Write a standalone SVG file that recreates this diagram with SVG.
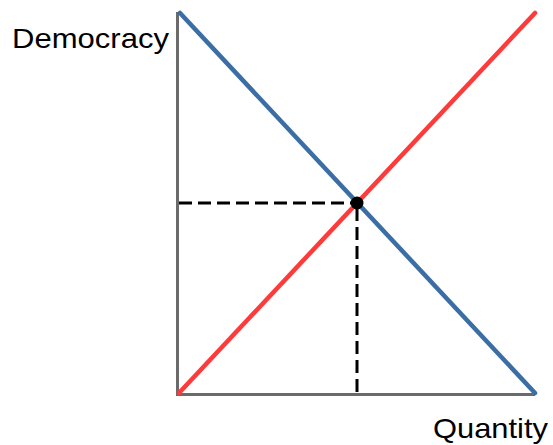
<svg xmlns="http://www.w3.org/2000/svg" width="553" height="445" viewBox="0 0 553 445">
<style>
.axis{stroke:#6b6b6b;stroke-width:3;fill:none}
.dash{stroke:#000;stroke-width:3;stroke-dasharray:13,6;fill:none}
.lbl{font-family:"Liberation Sans",Arial,sans-serif;font-size:28px;fill:#000}
</style>
<rect width="553" height="445" fill="#fff"/>
<g id="axes">
<line class="axis" x1="177.5" y1="12" x2="177.5" y2="394.5"/>
<line class="axis" x1="176" y1="394.5" x2="535" y2="394.5"/>
</g>
<g id="connectors">
<line class="dash" x1="179" y1="203" x2="357" y2="203"/>
<line class="dash" x1="357" y1="208" x2="357" y2="393"/>
<line id="demand" x1="180" y1="13" x2="535" y2="393" stroke="#3a6ea5" stroke-width="4.5" stroke-linecap="round"/>
<line id="supply" x1="179" y1="393" x2="535" y2="13" stroke="#ff3a3a" stroke-width="4.5" stroke-linecap="round"/>
</g>
<g id="equilibrium">
<circle cx="357" cy="203" r="6.5" fill="#000"/>
</g>
<g id="labels">
<text class="lbl" x="12" y="48" textLength="157" lengthAdjust="spacingAndGlyphs">Democracy</text>
<text class="lbl" x="433" y="438" textLength="115" lengthAdjust="spacingAndGlyphs">Quantity</text>
</g>
</svg>
